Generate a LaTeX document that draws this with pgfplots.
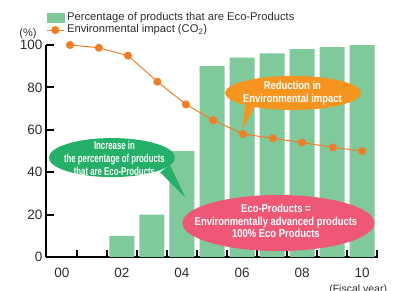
\documentclass[border=0pt]{standalone}
\usepackage{fontspec}
\setmainfont{Liberation Sans}
\newfontfamily\condA[FakeStretch=0.68]{Liberation Sans}
\newfontfamily\condB[FakeStretch=0.82]{Liberation Sans}
\usepackage{pgfplots}
\pgfplotsset{compat=1.18}
\definecolor{barg}{RGB}{128,201,155}
\definecolor{lineor}{RGB}{240,125,40}
\definecolor{ellg}{RGB}{36,176,104}
\definecolor{ello}{RGB}{245,148,30}
\definecolor{ellp}{RGB}{238,88,118}
\definecolor{txt}{RGB}{45,45,45}
\newcommand\tl[1]{{\fontsize{13.5}{15}\selectfont\color{txt}#1}}
\begin{document}
\begin{tikzpicture}
\begin{axis}[name=ax, at={(0,0)}, anchor=south west,
  scale only axis, width=332pt, height=212pt,
  xmin=-0.53, xmax=10.53, ymin=0, ymax=100,
  axis lines=left, axis line style={-, line width=2pt, black},
  clip=false,
  tick align=inside,
  xtick={0.5,1.5,...,10.5}, xticklabels={\tl{00},,\tl{02},,\tl{04},,\tl{06},,\tl{08},,\tl{10},},
  x tick style={line width=1.5pt, black},
  ytick={0,20,...,100}, yticklabels={\tl{0},\tl{20},\tl{40},\tl{60},\tl{80},\tl{100}},
  y tick style={line width=2pt, black},
  major tick length=7pt,
  xticklabel style={yshift=-8pt, xshift=-15pt},
  legend style={draw=none, fill=none, at={(axis description cs:0.0,1.155)}, anchor=north west,
    font=\fontsize{11.2}{13}\selectfont, text=txt, inner sep=0pt, row sep=2pt,
    nodes={inner xsep=2.5pt, inner ysep=0pt, text height=8pt, text depth=2.5pt}},
  legend cell align=left,
]
\addplot[ybar, bar width=25pt, fill=barg, draw=none,
  legend image code/.code={\fill[barg] (0pt,-5pt) rectangle (18pt,5pt);}]
  coordinates {(2,10) (3,20) (4,50) (5,90) (6,94) (7,96) (8,98) (9,99) (10,100)};
\addlegendentry{Percentage of products that are Eco-Products}
\addplot[color=lineor, line width=1pt, mark=*, mark size=3.5pt, mark options={fill=lineor, draw=lineor}]
  coordinates {(0.27,100) (1.23,98.7) (2.2,95) (3.18,82.7) (4.13,72) (5.04,64.5) (6.04,58) (7.03,56) (8.0,54) (9.03,51.7) (10.0,50)};
\addlegendentry{Environmental impact (CO\textsubscript{2})}

% green callout
\fill[ellg] (axis cs:3.27,40) -- (axis cs:4.1,28.3) -- (axis cs:3.6,43.4) -- cycle;
\fill[ellg] (axis cs:1.667,46.9) ellipse [x radius=63pt, y radius=19.5pt];
\node[text=white, font=\condA\bfseries\fontsize{11.5}{12.8}\selectfont, align=center]
  at (axis cs:1.75,46.5) {Increase in\\the percentage of products\\that are Eco-Products};
% orange callout
\fill[ello] (axis cs:6.1,71.7) -- (axis cs:6.03,60.8) -- (axis cs:6.5,72.6) -- cycle;
\fill[ello] (axis cs:7.7,77.4) ellipse [x radius=68pt, y radius=17pt];
\node[text=white, font=\condB\bfseries\fontsize{11.5}{12.5}\selectfont, align=center]
  at (axis cs:7.68,77.4) {Reduction in\\Environmental impact};
% pink ellipse
\fill[ellp] (axis cs:7.21,16.04) ellipse [x radius=96pt, y radius=28pt];
\node[text=white, font=\condB\bfseries\fontsize{11.5}{12.3}\selectfont, align=center]
  at (axis cs:7.13,17) {Eco-Products =\\Environmentally advanced products\\100\% Eco Products};

\node[text=txt, font=\fontsize{11}{13}\selectfont] at ([xshift=-18pt,yshift=11pt]rel axis cs:0,1) {(\%)};
\node[text=txt, font=\fontsize{10.5}{12}\selectfont, anchor=north] at ([yshift=-24pt]axis cs:9.87,0) {(Fiscal year)};
\end{axis}
% axis tick marks drawn in plain TikZ relative to the axis box
\foreach \k in {0,1,2,3,4,5} {
  \draw[line width=2pt, black] ([yshift=\k*42.4pt]ax.south west) -- ++(8pt,0pt);
}
\foreach \k in {0,...,10} {
  \draw[line width=1.5pt, black] ([xshift={(\k+1.03)*30.018pt}]ax.south west) -- ++(0pt,6pt);
}
\pgfresetboundingbox
\path[use as bounding box] (-46pt,-33pt) rectangle (355pt,257pt);
\end{tikzpicture}
\end{document}
